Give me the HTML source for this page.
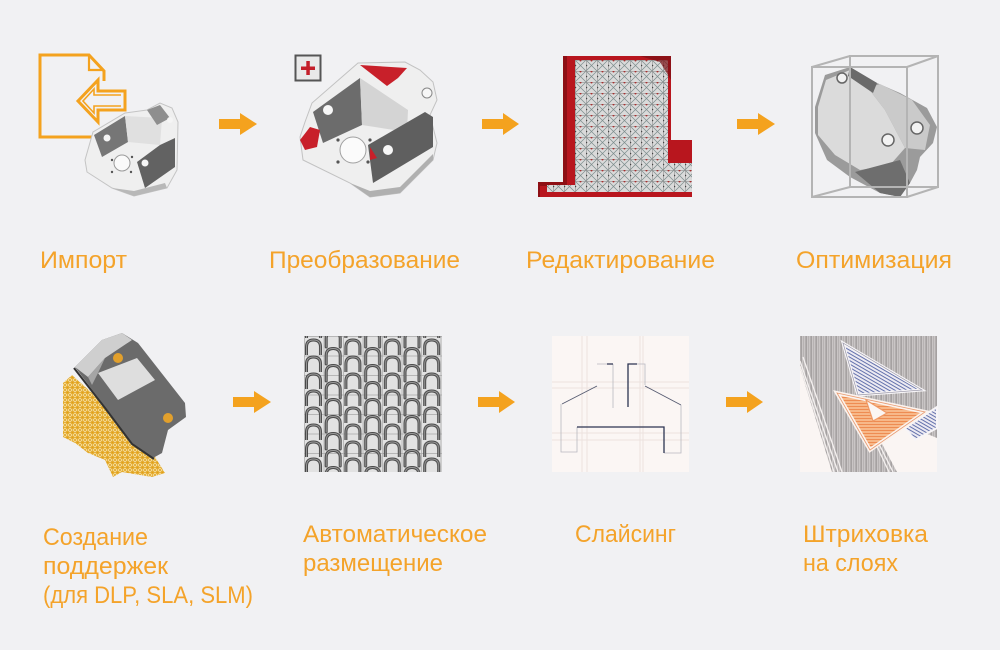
<!DOCTYPE html>
<html><head><meta charset="utf-8"><style>
html,body{margin:0;padding:0;background:#f1f1f3;}
svg{display:block;}
text{font-family:"Liberation Sans","DejaVu Sans",sans-serif;font-size:24px;fill:#f4a32a;}
</style></head><body>
<svg width="1000" height="650" viewBox="0 0 1000 650" xmlns="http://www.w3.org/2000/svg">
<defs>
  <pattern id="lat" width="11" height="11" patternUnits="userSpaceOnUse" x="575" y="60">
    <rect width="11" height="11" fill="#dadada"/>
    <path d="M0,0 L11,11 M11,0 L0,11" stroke="#7a8c8c" stroke-width="0.7"/>
    <path d="M0,0.4 H11 M0.4,0 V11" stroke="#909090" stroke-width="0.6"/>
    <circle cx="5.5" cy="0.5" r="1" fill="#a83030"/>
    <circle cx="0.5" cy="5.5" r="0.8" fill="#444"/>
  </pattern>
  <pattern id="mesh" width="5" height="5" patternUnits="userSpaceOnUse">
    <rect width="5" height="5" fill="#f4dea0"/>
    <path d="M0,0 L5,5 M5,0 L0,5 M0,2.5 H5 M2.5,0 V5" stroke="#e2a118" stroke-width="0.7"/>
  </pattern>
  <pattern id="grid" width="19.5" height="19.5" patternUnits="userSpaceOnUse" x="304" y="336">
    <rect width="19.5" height="19.5" fill="#e2e2e2"/>
    <path d="M0,0.5 H19.5 M0.5,0 V19.5" stroke="#a8a8a8" stroke-width="0.7"/>
  </pattern>
  <pattern id="arch" width="39.4" height="17" patternUnits="userSpaceOnUse" x="304" y="338">
    <g fill="none" stroke-linecap="round">
      <g>
        <path d="M2.5,17.5 V9 Q2.5,2 9.5,2 Q16.5,2 16.5,9 V17.5" stroke="#4a4a4a" stroke-width="3"/>
        <path d="M2.5,17.5 V9 Q2.5,2 9.5,2 Q16.5,2 16.5,9 V17.5" stroke="#9c9c9c" stroke-width="0.9"/>
      </g>
      <g transform="translate(19.7,8.5)">
        <path d="M2.5,17.5 V9 Q2.5,2 9.5,2 Q16.5,2 16.5,9 V17.5" stroke="#4a4a4a" stroke-width="3"/>
        <path d="M2.5,17.5 V9 Q2.5,2 9.5,2 Q16.5,2 16.5,9 V17.5" stroke="#9c9c9c" stroke-width="0.9"/>
      </g>
      <g transform="translate(19.7,-8.5)">
        <path d="M2.5,17.5 V9 Q2.5,2 9.5,2 Q16.5,2 16.5,9 V17.5" stroke="#4a4a4a" stroke-width="3"/>
        <path d="M2.5,17.5 V9 Q2.5,2 9.5,2 Q16.5,2 16.5,9 V17.5" stroke="#9c9c9c" stroke-width="0.9"/>
      </g>
    </g>
  </pattern>
  <pattern id="stripes" width="5" height="10" patternUnits="userSpaceOnUse" x="800" y="336">
    <rect width="5" height="10" fill="#c9c5c5"/>
    <rect x="0.5" width="1.3" height="10" fill="#9c9898"/>
    <rect x="3" width="0.8" height="10" fill="#b2aeae"/>
  </pattern>
  <pattern id="blueh" width="6" height="3" patternUnits="userSpaceOnUse" patternTransform="rotate(30)">
    <rect width="6" height="3" fill="#eceaf2"/>
    <rect y="1" width="6" height="0.9" fill="#5565a5"/>
  </pattern>
  <pattern id="orh" width="6" height="3" patternUnits="userSpaceOnUse">
    <rect width="6" height="3" fill="#f7b889"/>
    <rect y="1" width="6" height="1" fill="#ee8c52"/>
  </pattern>
</defs>

<!-- ============ ROW 1 ============ -->
<!-- Import icon -->
<g fill="none" stroke="#f4a21e" stroke-width="3" stroke-linejoin="miter">
  <path d="M96,137 H40 V55 H89 L104,71 V81"/>
  <path d="M89,55 V70 H104" stroke-width="2.2"/>
  <path d="M125,91 H98 V80 L78,101 L98,122 V110 H125 Z"/>
  <path d="M121,95 H94 V89 L83,101 L94,113 V106 H121" stroke-width="1.6"/>
</g>
<!-- Import object -->
<g>
  <polygon points="85,160 93,132 125,113 147,110 160,103 172,108 178,122 177,170 167,188 134,196 112,188 87,172" fill="#efefef" stroke="#c4c4c4" stroke-width="1"/>
  <polygon points="94,135 125,116 128,142 102,157" fill="#767676"/>
  <polygon points="125,116 162,118 160,145 128,142" fill="#e0e0e0"/>
  <polygon points="137,162 160,145 175,138 175,167 145,188" fill="#626262"/>
  <polygon points="147,110 160,105 170,118 157,125" fill="#8e8e8e"/>
  <polygon points="112,188 134,196 167,188 165,183 134,191" fill="#b8b8b8"/>
  <circle cx="122" cy="163" r="8" fill="#fafafa" stroke="#9a9a9a" stroke-width="1"/>
  <circle cx="107" cy="138" r="3.5" fill="#f5f5f5"/>
  <circle cx="145" cy="163" r="3.5" fill="#f5f5f5"/>
  <circle cx="170" cy="120" r="3" fill="#f5f5f5"/>
  <circle cx="112" cy="160" r="1.2" fill="#555"/><circle cx="132" cy="157" r="1.2" fill="#555"/>
  <circle cx="112" cy="172" r="1.2" fill="#555"/><circle cx="131" cy="172" r="1.2" fill="#555"/>
</g>

<!-- Arrows row 1 -->
<g fill="#f4a21e">
  <path d="M219,119 H240 V113 L257,124 L240,135 V129 H219 Z"/>
  <path d="M482,119 H503 V113 L519,124 L503,135 V129 H482 Z"/>
  <path d="M737,119 H758 V113 L775,124 L758,135 V129 H737 Z"/>
</g>

<!-- Transform -->
<rect x="295.5" y="55.5" width="25" height="25" fill="#e9e9e9" stroke="#555" stroke-width="2"/>
<rect x="301" y="66.5" width="14" height="3.5" fill="#c41f2a"/>
<rect x="306.3" y="61" width="3.5" height="14" fill="#c41f2a"/>
<g>
  <polygon points="305,122 312,103 358,63 405,62 420,70 433,82 437,100 430,115 437,143 433,160 400,193 370,197 350,183 303,160 300,137" fill="#efefef" stroke="#c2c2c2" stroke-width="1"/>
  <polygon points="313,112 360,78 362,125 323,143" fill="#6c6c6c"/>
  <polygon points="360,78 408,110 407,132 362,125" fill="#d4d4d4"/>
  <polygon points="368,145 425,112 433,117 433,147 373,183" fill="#5f5f5f"/>
  <polygon points="360,65 407,68 398,78 387,86" fill="#c8202a"/>
  <polygon points="300,140 310,127 320,130 317,147 305,150" fill="#c8202a"/>
  <polygon points="370,147 377,158 370,160" fill="#c8202a"/>
  <polygon points="350,183 370,197 400,193 433,160 433,154 400,187 370,191" fill="#b0b0b0"/>
  <circle cx="353" cy="150" r="13" fill="#fbfbfb" stroke="#a0a0a0" stroke-width="1"/>
  <circle cx="328" cy="110" r="5" fill="#f7f7f7"/>
  <circle cx="388" cy="150" r="5" fill="#f7f7f7"/>
  <circle cx="427" cy="93" r="5" fill="#f7f7f7" stroke="#888"/>
  <circle cx="338" cy="140" r="1.6" fill="#555"/><circle cx="370" cy="140" r="1.6" fill="#555"/>
  <circle cx="338" cy="162" r="1.6" fill="#555"/><circle cx="368" cy="162" r="1.6" fill="#555"/>
</g>

<!-- Edit -->
<polygon points="563,56 671,56 671,140 692,140 692,197 538,197 538,182 563,182" fill="#b8161e"/>
<polygon points="538,182 563,182 563,56 567,56 567,186 540,186 540,197 538,197" fill="#8e0f14"/>
<polygon points="575,60 668,60 668,163 692,163 692,192 547,192 547,185 575,185" fill="url(#lat)"/>
<polygon points="640,56 671,56 671,80 660,62" fill="#7a1014" opacity="0.7"/>

<!-- Optimize -->
<g>
  <polygon points="815,107 825,75 850,67 877,83 900,93 927,108 937,127 933,143 920,157 917,170 910,183 900,197 880,193 850,177 827,160 815,133" fill="#9b9b9b"/>
  <polygon points="818,107 826,80 850,70 868,88 885,110 905,148 890,165 860,170 835,155 818,135" fill="#dbdbdb"/>
  <polygon points="868,88 880,84 912,100 930,125 925,150 905,148 885,110" fill="#cacaca"/>
  <polygon points="855,172 900,160 910,183 900,197 880,193" fill="#6e6e6e"/>
  <polygon points="850,67 877,83 873,93 848,76" fill="#6a6a6a"/>
  <circle cx="842" cy="78" r="5" fill="#f2f2f2" stroke="#666" stroke-width="1.5"/>
  <circle cx="888" cy="140" r="6" fill="#f2f2f2" stroke="#666" stroke-width="1.5"/>
  <circle cx="917" cy="128" r="6" fill="#f2f2f2" stroke="#666" stroke-width="1.5"/>
</g>
<g fill="none" stroke="#b4b4b4" stroke-width="2">
  <rect x="812" y="67" width="95" height="130"/>
  <rect x="850" y="56" width="88" height="131"/>
  <path d="M812,67 L850,56 M907,67 L938,56 M907,197 L938,187 M812,197 L850,187"/>
</g>

<!-- Row 1 labels -->
<text x="40" y="268" textLength="87" lengthAdjust="spacingAndGlyphs">Импорт</text>
<text x="269" y="268" textLength="191" lengthAdjust="spacingAndGlyphs">Преобразование</text>
<text x="526" y="268" textLength="189" lengthAdjust="spacingAndGlyphs">Редактирование</text>
<text x="796" y="268" textLength="156" lengthAdjust="spacingAndGlyphs">Оптимизация</text>

<!-- ============ ROW 2 ============ -->
<!-- Supports -->
<g>
  <polygon points="63,383 72,375 92,393 112,417 132,440 155,457 165,473 152,477 122,472 113,477 105,460 88,453 75,443 63,437" fill="url(#mesh)"/>
  <polygon points="75,367 102,340 122,333 138,343 185,403 186,417 168,430 162,453 153,458 132,443 105,407" fill="#6b6b6b"/>
  <polygon points="75,367 102,340 122,333 132,340 105,358 88,377" fill="#cfcfcf"/>
  <polygon points="98,373 137,358 155,380 118,400" fill="#dedede"/>
  <polygon points="88,377 105,358 98,373 92,385" fill="#a5a5a5"/>
  <path d="M74,368 L105,408 L132,444 L154,459" fill="none" stroke="#333" stroke-width="2"/>
  <circle cx="118" cy="358" r="5" fill="#e2a02c"/>
  <circle cx="168" cy="418" r="5" fill="#e2a02c"/>
</g>

<!-- Arrows row 2 -->
<g fill="#f4a21e">
  <path d="M233,397 H254 V391 L271,402 L254,413 V407 H233 Z"/>
  <path d="M478,397 H499 V391 L515,402 L499,413 V407 H478 Z"/>
  <path d="M726,397 H747 V391 L763,402 L747,413 V407 H726 Z"/>
</g>

<!-- Auto placement -->
<rect x="304" y="336" width="138" height="136" fill="url(#grid)"/>
<rect x="304" y="336" width="138" height="136" fill="url(#arch)"/>

<!-- Slicing -->
<rect x="552" y="336" width="137" height="136" fill="#fbf6f4"/>
<g stroke="#ece2de" stroke-width="1" fill="none">
  <path d="M582,336 V472 M587,336 V472 M640,336 V472 M643,336 V472 M552,382 H689 M552,388 H689 M552,433 H689 M552,440 H689"/>
</g>
<g fill="none" stroke="#b8b8c0" stroke-width="0.8">
  <path d="M597,364 H607 M613,364 V408 M637,364 H645 V385 M561,404 V452 H577 V427 M664,453 H681 V405"/>
</g>
<g fill="none" stroke="#2c3452" stroke-width="1.3">
  <path d="M607,364 H613 M637,364 H628 V407 M577,427 H664 V453"/>
  <path d="M562,404 L597,386 M645,386 L681,405" stroke-width="0.9" stroke="#555a70"/>
</g>

<!-- Hatching -->
<rect x="800" y="336" width="137" height="136" fill="url(#stripes)"/>
<polygon points="800,368 832,472 800,472" fill="#faf5f3"/>
<path d="M800,366 L834,472 M800,361 L838,472 M803,357 L842,472" stroke="#f4f0ef" stroke-width="1.3" fill="none"/>
<polygon points="880,440 908,426 937,438 937,472 897,472" fill="#faf5f3"/>
<path d="M878,442 L893,472 M874,440 L889,472" stroke="#f4f0ef" stroke-width="1.3" fill="none"/>
<polygon points="843,343 922,390 858,395" fill="url(#blueh)" stroke="#f7f5f7" stroke-width="3"/>
<polygon points="843,343 922,390 858,395" fill="none" stroke="#9a98a8" stroke-width="0.7"/>
<polygon points="905,428 937,407 937,428 915,440" fill="url(#blueh)" stroke="#f7f5f7" stroke-width="2"/>
<polygon points="837,393 925,412 870,450" fill="url(#orh)" stroke="#fbf3ee" stroke-width="4"/>
<polygon points="837,393 925,412 870,450" fill="none" stroke="#e89a70" stroke-width="0.8"/>
<polygon points="866,400 887,413 873,421" fill="#fbf6f3" stroke="#ef9a66" stroke-width="1.2"/>

<!-- Row 2 labels -->
<text x="43" y="545" textLength="105" lengthAdjust="spacingAndGlyphs">Создание</text>
<text x="43" y="574" textLength="125" lengthAdjust="spacingAndGlyphs">поддержек</text>
<text x="43" y="603" textLength="210" lengthAdjust="spacingAndGlyphs">(для DLP, SLA, SLM)</text>
<text x="303" y="542" textLength="184" lengthAdjust="spacingAndGlyphs">Автоматическое</text>
<text x="303" y="571" textLength="140" lengthAdjust="spacingAndGlyphs">размещение</text>
<text x="575" y="542" textLength="101" lengthAdjust="spacingAndGlyphs">Слайсинг</text>
<text x="803" y="542" textLength="125" lengthAdjust="spacingAndGlyphs">Штриховка</text>
<text x="803" y="571" textLength="95" lengthAdjust="spacingAndGlyphs">на слоях</text>
</svg>
</body></html>
